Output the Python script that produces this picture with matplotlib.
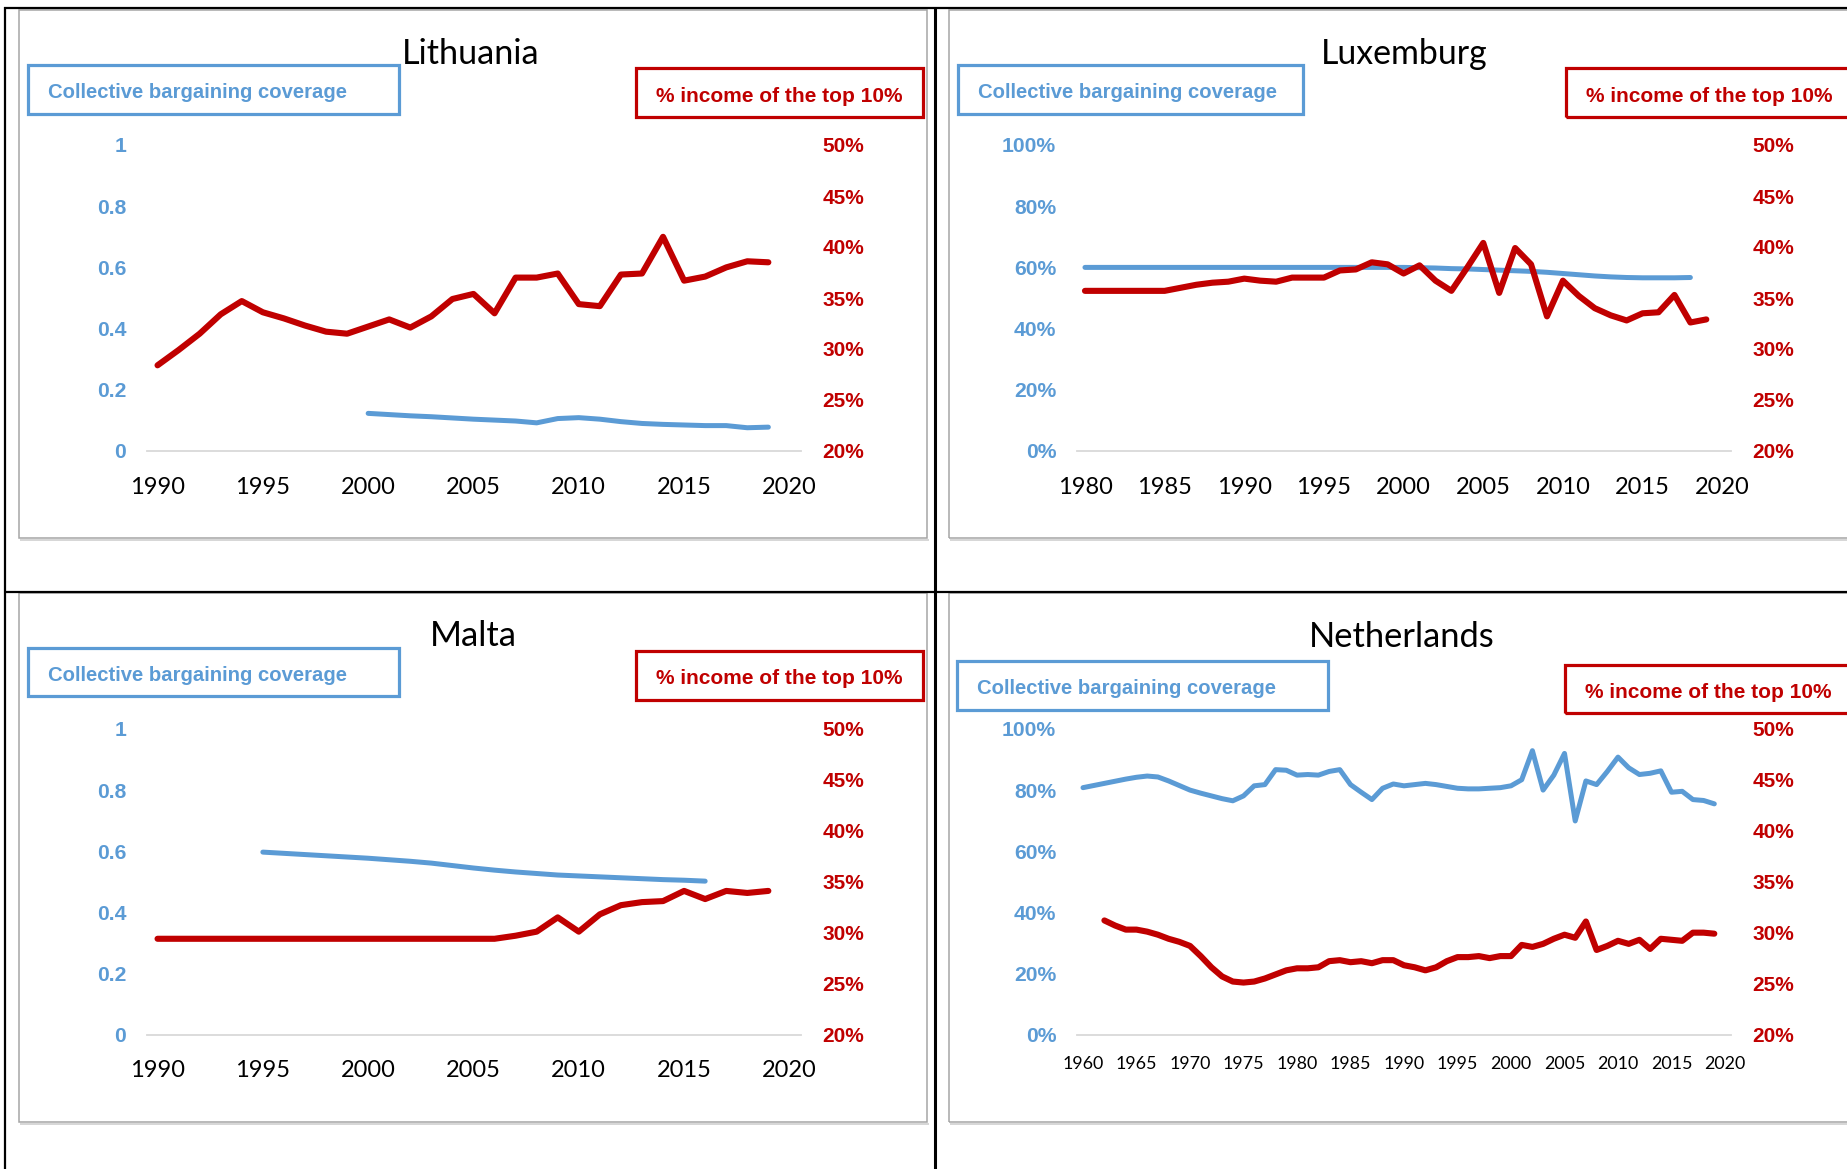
import matplotlib
matplotlib.use("Agg")
import matplotlib.pyplot as plt
from matplotlib.patches import Rectangle
from matplotlib.lines import Line2D

plt.rcParams['font.family'] = ['Lato', 'DejaVu Sans']
BOLD_FAMILY = ['Liberation Sans', 'DejaVu Sans']

W, H = 1847, 1169
BLUE = '#5B9BD5'
RED = '#C00000'

# ---------------- data ----------------
lt_years_red = list(range(1990, 2020))
lt_red = [28.4, 29.9, 31.5, 33.4, 34.7, 33.6, 33.0, 32.3, 31.7, 31.5, 32.2, 32.9, 32.1, 33.2,
          34.9, 35.4, 33.5, 37.0, 37.0, 37.4, 34.4, 34.2, 37.3, 37.4, 41.0, 36.7, 37.1, 38.0,
          38.6, 38.5]
lt_years_blue = list(range(2000, 2020))
lt_blue = [0.123, 0.119, 0.115, 0.112, 0.108, 0.104, 0.101, 0.098, 0.092, 0.106, 0.109, 0.104,
           0.096, 0.090, 0.087, 0.085, 0.083, 0.083, 0.076, 0.078]

lu_years_red = list(range(1980, 2020))
lu_red = [35.7, 35.7, 35.7, 35.7, 35.7, 35.7, 36.0, 36.3, 36.5, 36.6, 36.9, 36.7, 36.6, 37.0,
          37.0, 37.0, 37.7, 37.8, 38.5, 38.3, 37.4, 38.2, 36.7, 35.7, 38.0, 40.4, 35.5, 39.9,
          38.3, 33.2, 36.7, 35.2, 34.0, 33.3, 32.8, 33.5, 33.6, 35.3, 32.6, 32.9]
lu_years_blue = list(range(1980, 2019))
lu_blue = [0.60] * 21 + [0.599, 0.598, 0.596, 0.595, 0.593, 0.591, 0.589, 0.587, 0.584, 0.580,
                         0.576, 0.572, 0.569, 0.567, 0.566, 0.566, 0.566, 0.567]

mt_years_red = list(range(1990, 2020))
mt_red = [29.4] * 17 + [29.7, 30.1, 31.5, 30.1, 31.8, 32.7, 33.0, 33.1, 34.1, 33.3, 34.1, 33.9, 34.1]
mt_years_blue = list(range(1995, 2017))
mt_blue = [0.597, 0.593, 0.589, 0.585, 0.581, 0.577, 0.572, 0.567, 0.561, 0.553, 0.545, 0.538,
           0.532, 0.527, 0.522, 0.519, 0.516, 0.513, 0.510, 0.507, 0.505, 0.502]

nl_years_red = list(range(1962, 2020))
nl_red = [31.2, 30.7, 30.3, 30.3, 30.1, 29.8, 29.4, 29.1, 28.7, 27.7, 26.6, 25.7, 25.2, 25.1,
          25.2, 25.5, 25.9, 26.3, 26.5, 26.5, 26.6, 27.2, 27.3, 27.1, 27.2, 27.0, 27.3, 27.3,
          26.8, 26.6, 26.3, 26.6, 27.2, 27.6, 27.6, 27.7, 27.5, 27.7, 27.7, 28.8, 28.6, 28.9,
          29.4, 29.8, 29.5, 31.1, 28.3, 28.7, 29.2, 28.9, 29.3, 28.4, 29.4, 29.3, 29.2, 30.0,
          30.0, 29.9]
nl_years_blue = list(range(1960, 2020))
nl_blue = [0.808, 0.815, 0.822, 0.829, 0.836, 0.842, 0.846, 0.843, 0.830, 0.815, 0.800, 0.790,
           0.781, 0.772, 0.765, 0.781, 0.814, 0.818, 0.867, 0.865, 0.849, 0.851, 0.849, 0.861,
           0.867, 0.818, 0.793, 0.769, 0.806, 0.820, 0.814, 0.818, 0.822, 0.818, 0.812, 0.806,
           0.804, 0.804, 0.806, 0.808, 0.814, 0.834, 0.929, 0.800, 0.849, 0.920, 0.699, 0.830,
           0.818, 0.861, 0.908, 0.873, 0.851, 0.855, 0.863, 0.793, 0.796, 0.769, 0.766, 0.755]

left_ticks = [0, 0.2, 0.4, 0.6, 0.8, 1.0]
left_labels_num = ['0', '0.2', '0.4', '0.6', '0.8', '1']
left_labels_pct = ['0%', '20%', '40%', '60%', '80%', '100%']
right_ticks = [20, 25, 30, 35, 40, 45, 50]
right_labels = ['20%', '25%', '30%', '35%', '40%', '45%', '50%']
lt_xticks = [1990, 1995, 2000, 2005, 2010, 2015, 2020]
lu_xticks = [1980, 1985, 1990, 1995, 2000, 2005, 2010, 2015, 2020]
nl_xticks = [1960, 1965, 1970, 1975, 1980, 1985, 1990, 1995, 2000, 2005, 2010, 2015, 2020]

fig = plt.figure(figsize=(W / 100, H / 100), dpi=100)
renderer = fig.canvas.get_renderer()


def fx(x):
    return x / W


def fy(y):
    return 1 - y / H


def fline(x0, y0, x1, y1, color='black', lw=1.5):
    fig.add_artist(Line2D([fx(x0), fx(x1)], [fy(y0), fy(y1)], color=color, lw=lw,
                          transform=fig.transFigure, solid_capstyle='butt'))


def frect(x0, y0, x1, y1, color, lw):
    fig.add_artist(Rectangle((fx(x0), fy(y1)), fx(x1) - fx(x0), fy(y0) - fy(y1),
                             transform=fig.transFigure, fill=False, edgecolor=color, lw=lw))


def fit_text(t, target_w):
    w = t.get_window_extent(renderer=renderer).width
    t.set_fontsize(t.get_fontsize() * target_w / w)


def panel(frame, axbox, xlim, xticks, xfs, xpad, title, tpos, tw, bbox, rbox,
          yb, vb, yr, vr, left_labels):
    # chart frame
    frect(*frame, color='#A6A6A6', lw=1.1)
    fline(frame[0] + 1, frame[3] + 2, frame[2] + 2, frame[3] + 2, color='#D0D0D0', lw=1.2)
    x0, x1, y0, y1 = axbox
    ax = fig.add_axes([fx(x0), fy(y1), fx(x1) - fx(x0), fy(y0) - fy(y1)])
    ax.patch.set_alpha(0)
    for s in ['top', 'left', 'right']:
        ax.spines[s].set_visible(False)
    ax.spines['bottom'].set_color('#D9D9D9')
    ax.spines['bottom'].set_linewidth(1.3)
    ax.set_xlim(*xlim)
    ax.set_ylim(0, 1)
    ax.set_xticks(xticks, labels=[str(t) for t in xticks])
    ax.tick_params(axis='x', length=0, pad=xpad, labelsize=xfs, labelcolor='black')
    ax.set_yticks(left_ticks, labels=left_labels, fontweight='bold', family=BOLD_FAMILY)
    ax.tick_params(axis='y', length=0, pad=15, labelsize=15.2, labelcolor=BLUE)
    ax.plot(yb, vb, color=BLUE, lw=3.6, solid_capstyle='round', solid_joinstyle='round')

    ax2 = ax.twinx()
    ax2.patch.set_alpha(0)
    for s in ax2.spines.values():
        s.set_visible(False)
    ax2.set_ylim(20, 50)
    ax2.set_yticks(right_ticks, labels=right_labels, fontweight='bold', family=BOLD_FAMILY)
    ax2.tick_params(axis='y', length=0, pad=15.5, labelsize=15.0, labelcolor=RED)
    ax2.plot(yr, vr, color=RED, lw=4.4, solid_capstyle='round', solid_joinstyle='round')

    t = fig.text(fx(tpos[0]), fy(tpos[1]), title, ha='center', va='center', fontsize=25, color='black')
    fit_text(t, tw)
    frect(*bbox, color=BLUE, lw=2.3)
    t = fig.text(fx(bbox[0] + 20), fy((bbox[1] + bbox[3]) / 2 + 3.5), "Collective bargaining coverage",
                 ha='left', va='center', fontsize=15, fontweight='bold', color=BLUE, family=BOLD_FAMILY)
    fit_text(t, 302)
    frect(*rbox, color=RED, lw=2.3)
    t = fig.text(fx(rbox[0] + 20), fy((rbox[1] + rbox[3]) / 2 + 3.5), "% income of the top 10%",
                 ha='left', va='center', fontsize=15, fontweight='bold', color=RED, family=BOLD_FAMILY)
    fit_text(t, 247)


panel((19, 10, 927, 538), (147, 801, 145, 451), (1989.5, 2020.55), lt_xticks, 17, 18.5,
      "Lithuania", (471, 54), 138, (28, 65, 399, 114), (636, 68, 923, 117),
      lt_years_blue, lt_blue, lt_years_red, lt_red, left_labels_num)
panel((949, 10, 1870, 538), (1077, 1731, 145, 451), (1979.5, 2020.55), lu_xticks, 17, 18.5,
      "Luxemburg", (1404, 54), 167, (958, 65, 1303, 114), (1566, 68, 1870, 117),
      lu_years_blue, lu_blue, lu_years_red, lu_red, left_labels_pct)
panel((19, 593, 927, 1122), (147, 801, 729, 1034.5), (1989.5, 2020.55), lt_xticks, 17, 18.5,
      "Malta", (473, 636), 87, (28, 648, 399, 696), (636, 651, 923, 700),
      mt_years_blue, mt_blue, mt_years_red, mt_red, left_labels_num)
panel((949, 593, 1870, 1122), (1077, 1731, 729, 1034.5), (1959.44, 2020.56), nl_xticks, 12.9, 15.5,
      "Netherlands", (1402, 637), 186, (957, 661, 1328, 710), (1565, 665, 1870, 713),
      nl_years_blue, nl_blue, nl_years_red, nl_red, left_labels_pct)

# table lines
fline(5, 7, 5, H, lw=1.6)
fline(4, 8, W, 8, lw=1.6)
fline(935, 7, 935, H, lw=2.2)
fline(4, 592, W, 592, lw=1.6)

fig.savefig("out.png", dpi=100)
